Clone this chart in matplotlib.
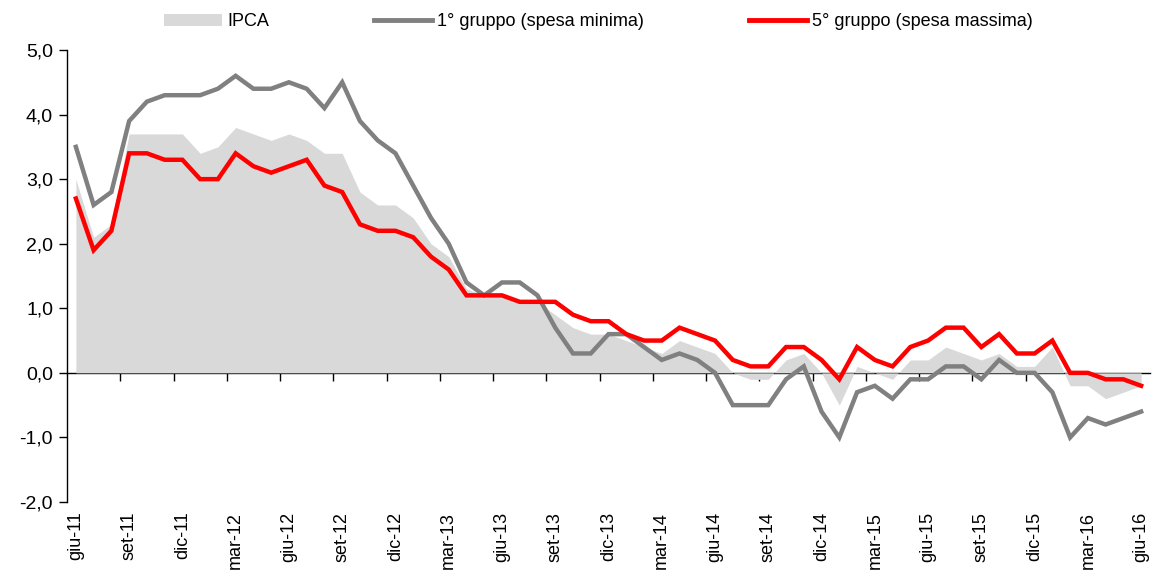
import numpy as np
import matplotlib
matplotlib.use("Agg")
import matplotlib.pyplot as plt
from matplotlib.patches import Patch
from matplotlib.lines import Line2D
from matplotlib.ticker import FuncFormatter

plt.rcParams["font.family"] = ["Liberation Sans Narrow", "Liberation Sans", "DejaVu Sans"]

# monthly, giu-11 .. giu-16
months = ["giu", "lug", "ago", "set", "ott", "nov", "dic", "gen", "feb", "mar", "apr", "mag"]
dates = [f"{months[i % 12]}-{11 + (i + 5) // 12}" for i in range(61)]

ipca = [3.0, 2.1, 2.3, 3.7, 3.7, 3.7, 3.7, 3.4, 3.5, 3.8, 3.7, 3.6, 3.7, 3.6, 3.4, 3.4,
        2.8, 2.6, 2.6, 2.4, 2.0, 1.8, 1.3, 1.2, 1.2, 1.1, 1.1, 0.9, 0.7, 0.6,
        0.6, 0.5, 0.4, 0.3, 0.5, 0.4, 0.3, 0.0, -0.1, -0.1, 0.2, 0.3, 0.0, -0.5, 0.1,
        0.0, -0.1, 0.2, 0.2, 0.4, 0.3, 0.2, 0.3, 0.1, 0.1, 0.4, -0.2, -0.2, -0.4, -0.3, -0.2]

gruppo1 = [3.5, 2.6, 2.8, 3.9, 4.2, 4.3, 4.3, 4.3, 4.4, 4.6, 4.4, 4.4, 4.5, 4.4, 4.1, 4.5,
           3.9, 3.6, 3.4, 2.9, 2.4, 2.0, 1.4, 1.2, 1.4, 1.4, 1.2, 0.7, 0.3, 0.3,
           0.6, 0.6, 0.4, 0.2, 0.3, 0.2, 0.0, -0.5, -0.5, -0.5, -0.1, 0.1, -0.6, -1.0, -0.3,
           -0.2, -0.4, -0.1, -0.1, 0.1, 0.1, -0.1, 0.2, 0.0, 0.0, -0.3, -1.0, -0.7, -0.8, -0.7, -0.6]

gruppo5 = [2.7, 1.9, 2.2, 3.4, 3.4, 3.3, 3.3, 3.0, 3.0, 3.4, 3.2, 3.1, 3.2, 3.3, 2.9, 2.8,
           2.3, 2.2, 2.2, 2.1, 1.8, 1.6, 1.2, 1.2, 1.2, 1.1, 1.1, 1.1, 0.9, 0.8,
           0.8, 0.6, 0.5, 0.5, 0.7, 0.6, 0.5, 0.2, 0.1, 0.1, 0.4, 0.4, 0.2, -0.1, 0.4,
           0.2, 0.1, 0.4, 0.5, 0.7, 0.7, 0.4, 0.6, 0.3, 0.3, 0.5, 0.0, 0.0, -0.1, -0.1, -0.2]

x = np.arange(len(dates))

fig = plt.figure(figsize=(11.62, 5.78), dpi=100)
ax = fig.add_axes([67 / 1162, 1 - 502 / 578, (1150 - 67) / 1162, (502 - 50) / 578])

ax.fill_between(x, 0, ipca, color="#D9D9D9", linewidth=0)
ax.plot(x, gruppo1, color="#808080", lw=3.2, solid_joinstyle="miter")
ax.plot(x, gruppo5, color="#FF0000", lw=3.2, solid_joinstyle="miter")

ax.set_xlim(-0.5, len(dates) - 0.5)
ax.set_ylim(-2, 5)
ax.set_yticks(np.arange(-2, 5.1, 1))
ax.yaxis.set_major_formatter(FuncFormatter(lambda v, p: f"{v:.1f}".replace(".", ",")))
ax.tick_params(axis="y", direction="out", length=6, width=1, labelsize=14, pad=4)

ax.set_xticks(x[::3])
ax.set_xticklabels(dates[::3], rotation=90, fontsize=13)
ax.tick_params(axis="x", length=0, pad=7)

for s in ["top", "right", "bottom"]:
    ax.spines[s].set_visible(False)
ax.spines["left"].set_linewidth(1)

# zero line with tick marks between categories
zero = ax.secondary_xaxis(2 / 7)
zero.set_xticks(x[3::3] - 0.5)
zero.set_xticklabels([])
zero.tick_params(axis="x", direction="out", length=6, width=1)
for s in zero.spines.values():
    s.set_linewidth(1)

handles = [Patch(facecolor="#D9D9D9", edgecolor="none"),
           Line2D([], [], color="#808080", lw=3.5),
           Line2D([], [], color="#FF0000", lw=3.5)]
fig.legend(handles, ["IPCA", "1° gruppo (spesa minima)", "5° gruppo (spesa massima)"],
           loc="center", bbox_to_anchor=(0.515, 0.962), ncol=3, frameon=False,
           fontsize=13, handlelength=3.2, handletextpad=0.3, columnspacing=5.8)

fig.savefig("out.png", dpi=100)
